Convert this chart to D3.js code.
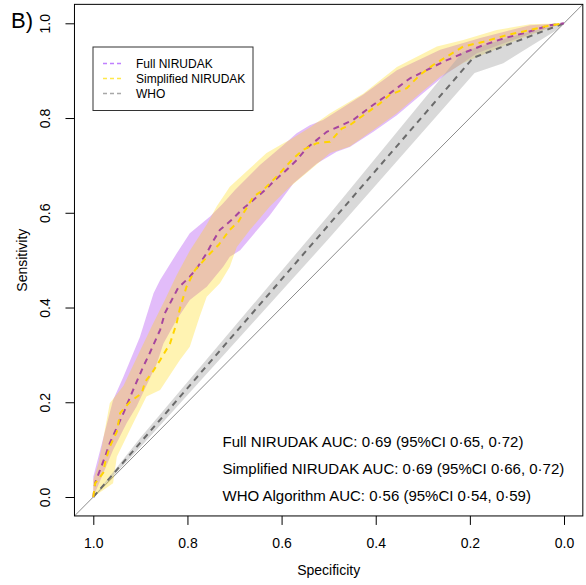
<!DOCTYPE html>
<html><head><meta charset="utf-8">
<script src="https://cdn.jsdelivr.net/npm/d3@7"></script>
<style>body{margin:0;background:#fff}svg{display:block}text{font-family:"Liberation Sans",Arial,sans-serif;fill:#000}</style>
</head><body><svg id="c" width="586" height="585"></svg>
<script>
// ---- data ----
const tickValues = [1.0, 0.8, 0.6, 0.4, 0.2, 0.0];
const tickLabels = ["1.0", "0.8", "0.6", "0.4", "0.2", "0.0"];
const seriesNames = ["Full NIRUDAK", "Simplified NIRUDAK", "WHO"];
const aucLabels = ["Full NIRUDAK AUC: 0·69 (95%CI 0·65, 0·72)",
                   "Simplified NIRUDAK AUC: 0·69 (95%CI 0·66, 0·72)",
                   "WHO Algorithm AUC: 0·56 (95%CI 0·54, 0·59)"];

const fullSpec = [1, 0.996, 0.975, 0.965, 0.936, 0.918, 0.908, 0.894, 0.880, 0.858, 0.848, 0.820, 0.795, 0.778, 0.759, 0.748, 0.731, 0.706, 0.685, 0.660, 0.635, 0.614, 0.593, 0.568, 0.547, 0.504, 0.476, 0.448, 0.405, 0.370, 0.327, 0.292, 0.256, 0.207, 0.171, 0.129, 0.086, 0.030, 0];
const fullSens = [0, 0.030, 0.085, 0.114, 0.177, 0.220, 0.243, 0.275, 0.304, 0.353, 0.388, 0.441, 0.465, 0.486, 0.515, 0.536, 0.564, 0.585, 0.606, 0.627, 0.648, 0.669, 0.687, 0.711, 0.736, 0.771, 0.783, 0.796, 0.828, 0.852, 0.884, 0.901, 0.919, 0.940, 0.954, 0.968, 0.979, 0.996, 1];

const simpSpec = [1, 0.996, 0.979, 0.975, 0.965, 0.950, 0.943, 0.922, 0.897, 0.890, 0.876, 0.858, 0.837, 0.823, 0.816, 0.802, 0.784, 0.752, 0.734, 0.710, 0.692, 0.660, 0.639, 0.607, 0.575, 0.554, 0.525, 0.497, 0.472, 0.455, 0.426, 0.391, 0.370, 0.334, 0.306, 0.278, 0.214, 0.171, 0.122, 0.072, 0.037, 0];
const simpSens = [0, 0.029, 0.051, 0.072, 0.106, 0.138, 0.177, 0.201, 0.219, 0.243, 0.261, 0.289, 0.324, 0.367, 0.398, 0.444, 0.479, 0.514, 0.532, 0.564, 0.581, 0.634, 0.648, 0.680, 0.715, 0.733, 0.747, 0.750, 0.778, 0.785, 0.806, 0.831, 0.849, 0.863, 0.891, 0.912, 0.951, 0.961, 0.975, 0.986, 0.994, 1];

const whoSpec = [1, 0.193, 0];
const whoSens = [0, 0.927, 1];

// confidence bands (upper and lower edges)
const fullUpSpec = [1, 0.958, 0.936, 0.901, 0.872, 0.858, 0.823, 0.795, 0.752, 0.724, 0.699, 0.646, 0.596, 0.568, 0.540, 0.512, 0.427, 0.355, 0.263, 0.178, 0.072, 0];
const fullUpSens = [0.043, 0.205, 0.254, 0.338, 0.430, 0.458, 0.514, 0.557, 0.592, 0.620, 0.648, 0.701, 0.743, 0.768, 0.785, 0.796, 0.849, 0.901, 0.944, 0.969, 0.996, 1];
const fullLoSpec = [1, 0.958, 0.929, 0.908, 0.865, 0.851, 0.823, 0.795, 0.759, 0.724, 0.710, 0.688, 0.625, 0.575, 0.525, 0.483, 0.455, 0.405, 0.355, 0.306, 0.249, 0.228, 0.185, 0.108, 0.037, 0];
const fullLoSens = [0, 0.099, 0.156, 0.191, 0.282, 0.324, 0.374, 0.416, 0.444, 0.486, 0.507, 0.521, 0.595, 0.662, 0.704, 0.729, 0.739, 0.771, 0.806, 0.847, 0.894, 0.908, 0.937, 0.965, 0.989, 1];

const simpUpSpec = [1, 0.989, 0.982, 0.965, 0.936, 0.905, 0.876, 0.848, 0.823, 0.795, 0.759, 0.738, 0.710, 0.632, 0.596, 0.582, 0.540, 0.497, 0.426, 0.355, 0.270, 0.214, 0.143, 0.072, 0];
const simpUpSens = [0.036, 0.071, 0.106, 0.198, 0.235, 0.300, 0.360, 0.416, 0.468, 0.520, 0.575, 0.613, 0.655, 0.726, 0.747, 0.754, 0.780, 0.810, 0.852, 0.908, 0.951, 0.965, 0.986, 0.998, 1];
const simpLoSpec = [1, 0.958, 0.950, 0.915, 0.887, 0.858, 0.816, 0.795, 0.774, 0.759, 0.731, 0.710, 0.695, 0.667, 0.625, 0.582, 0.540, 0.497, 0.455, 0.405, 0.355, 0.306, 0.263, 0.214, 0.108, 0.037, 0];
const simpLoSens = [0, 0.029, 0.085, 0.156, 0.212, 0.226, 0.289, 0.317, 0.381, 0.423, 0.451, 0.486, 0.528, 0.564, 0.613, 0.655, 0.690, 0.726, 0.740, 0.775, 0.810, 0.852, 0.887, 0.916, 0.961, 0.988, 1];

const whoUpSpec = [1, 0.9, 0.5, 0.215, 0.1, 0];
const whoUpSens = [0, 0.125, 0.595, 0.94, 0.975, 1];
const whoLoSpec = [1, 0.9, 0.5, 0.19, 0.129, 0.072, 0.015, 0];
const whoLoSens = [0, 0.105, 0.545, 0.895, 0.9155, 0.951, 0.986, 1];

// ---- drawing ----
const svg = d3.select("#c");
svg.append("rect").attr("width", 586).attr("height", 585).attr("fill", "#fff");

const x = d3.scaleLinear().domain([1, 0]).range([93.3, 564]);
const y = d3.scaleLinear().domain([0, 1]).range([497, 23.3]);
const bx0 = x(1.04), bx1 = x(-0.04), by0 = y(1.04), by1 = y(-0.04);

svg.append("defs").append("clipPath").attr("id", "clip")
  .append("rect").attr("x", bx0).attr("y", by0).attr("width", bx1 - bx0).attr("height", by1 - by0);

const plot = svg.append("g").attr("clip-path", "url(#clip)");

const zip = (a, b) => a.map((v, i) => [v, b[i]]);
const line = d3.line().x(d => x(d[0])).y(d => y(d[1]));
const band = (us, un, ls, ln) => zip(us, un).concat(zip(ls, ln).reverse());

// diagonal
plot.append("path").attr("d", line([[1.04, -0.04], [-0.04, 1.04]]))
  .attr("stroke", "#8c8c8c").attr("stroke-width", 1).attr("fill", "none");

// bands
plot.append("path").attr("d", line(band(fullUpSpec, fullUpSens, fullLoSpec, fullLoSens)) + "Z")
  .attr("fill", "rgb(160,32,240)").attr("fill-opacity", 0.3);
plot.append("path").attr("d", line(band(simpUpSpec, simpUpSens, simpLoSpec, simpLoSens)) + "Z")
  .attr("fill", "rgb(255,215,0)").attr("fill-opacity", 0.3);
plot.append("path").attr("d", line(band(whoUpSpec, whoUpSens, whoLoSpec, whoLoSens)) + "Z")
  .attr("fill", "rgb(170,170,170)").attr("fill-opacity", 0.45);

// curves
plot.append("path").attr("d", line(zip(whoSpec, whoSens)))
  .attr("stroke", "#6b6b6b").attr("stroke-width", 2).attr("stroke-dasharray", "6,5").attr("fill", "none");
plot.append("path").attr("d", line(zip(fullSpec, fullSens)))
  .attr("stroke", "#a6459e").attr("stroke-width", 2).attr("stroke-dasharray", "6,5").attr("fill", "none");
plot.append("path").attr("d", line(zip(simpSpec, simpSens)))
  .attr("stroke", "#ffd400").attr("stroke-width", 2).attr("stroke-dasharray", "6,5").attr("fill", "none");

// box
svg.append("rect").attr("x", bx0).attr("y", by0).attr("width", bx1 - bx0).attr("height", by1 - by0)
  .attr("fill", "none").attr("stroke", "#000").attr("stroke-width", 1);

// axes
const xa = svg.append("g").attr("transform", `translate(0,${by1})`)
  .call(d3.axisBottom(x).tickValues(tickValues).tickFormat((d, i) => tickLabels[i]).tickSize(9).tickPadding(13));
xa.select(".domain").remove();
xa.selectAll("line").attr("stroke", "#000");
xa.selectAll("text").style("font-size", "14px").attr("font-family", "Liberation Sans, Arial, sans-serif");

const ya = svg.append("g").attr("transform", `translate(${bx0},0)`)
  .call(d3.axisLeft(y).tickValues(tickValues).tickFormat((d, i) => tickLabels[i]).tickSize(9));
ya.select(".domain").remove();
ya.selectAll("line").attr("stroke", "#000");
ya.selectAll("text").attr("x", null).attr("dy", null)
  .attr("transform", "translate(-24.5,0) rotate(-90)").attr("text-anchor", "middle")
  .style("font-size", "14px").attr("font-family", "Liberation Sans, Arial, sans-serif");

svg.append("text").attr("x", (bx0 + bx1) / 2).attr("y", 575).attr("text-anchor", "middle")
  .style("font-size", "14px").text("Specificity");
svg.append("text").attr("transform", `translate(27,${(by0 + by1) / 2}) rotate(-90)`).attr("text-anchor", "middle")
  .style("font-size", "14px").text("Sensitivity");
svg.append("text").attr("x", 11).attr("y", 28).style("font-size", "22px").text("B)");

// legend
const lg = svg.append("g");
lg.append("rect").attr("x", 93).attr("y", 47).attr("width", 160).attr("height", 63.5)
  .attr("fill", "#fff").attr("stroke", "#333").attr("stroke-width", 1);
const legendColors = ["#c080ff", "#ffe84a", "#a8a8a8"];
seriesNames.forEach((n, i) => {
  const yy = 63.5 + i * 15;
  lg.append("line").attr("x1", 103).attr("x2", 123).attr("y1", yy).attr("y2", yy)
    .attr("stroke", legendColors[i]).attr("stroke-width", 1.5).attr("stroke-dasharray", "4,3");
  lg.append("text").attr("x", 136).attr("y", yy + 4.3).style("font-size", "12px").text(n);
});

// AUC annotations
aucLabels.forEach((t, i) => {
  svg.append("text").attr("x", 222.5).attr("y", 446.5 + i * 27).style("font-size", "15px").text(t);
});
</script></body></html>
